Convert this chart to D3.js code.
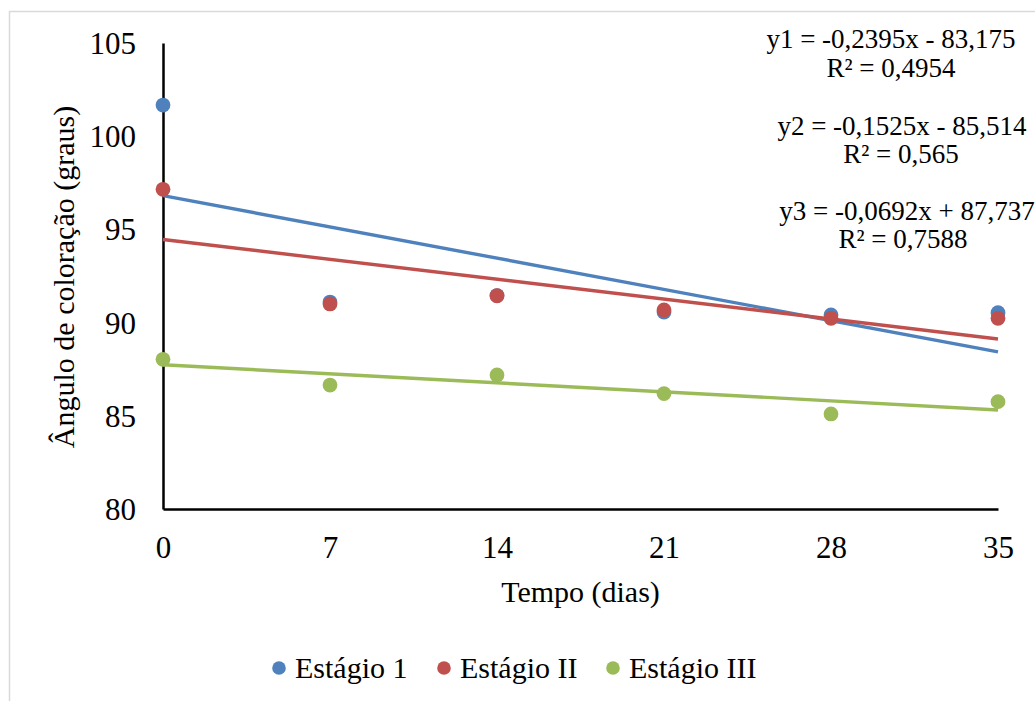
<!DOCTYPE html>
<html>
<head>
<meta charset="utf-8">
<script src="https://cdn.jsdelivr.net/npm/d3@7"></script>
<style>
  html, body { margin: 0; padding: 0; background: #fff; }
  svg { display: block; }
  text { font-family: "Liberation Serif", "Times New Roman", serif; fill: #000; }
</style>
</head>
<body>
<svg id="chart" width="1035" height="701"></svg>
<script>
// ---- data ----
const days = [0, 7, 14, 21, 28, 35];
const seriesNames = ["Estágio 1", "Estágio II", "Estágio III"];
const stage1 = [101.67, 91.1, 91.45, 90.57, 90.41, 90.53];
const stage2 = [97.15, 91.0, 91.44, 90.68, 90.23, 90.23];
const stage3 = [88.03, 86.65, 87.19, 86.19, 85.10, 85.76];
const trendSlopes = [-0.2395, -0.1525, -0.0692];
const trendIntercepts = [96.81, 94.46, 87.737];
const equationLines = [
  "y1 = -0,2395x - 83,175", "R² = 0,4954",
  "y2 = -0,1525x - 85,514", "R² = 0,565",
  "y3 = -0,0692x + 87,737", "R² = 0,7588"
];
const yTicks = [80, 85, 90, 95, 100, 105];
const colors = ["#4F81BD", "#C0504D", "#9BBB59"];

// ---- layout ----
const svg = d3.select("#chart");
const plot = { left: 163, right: 998, top: 43, bottom: 509 };
const serif = "'Liberation Serif', 'Times New Roman', serif";

// outer chart border
svg.append("rect")
  .attr("x", 9.5).attr("y", 11.5)
  .attr("width", 1040).attr("height", 700)
  .attr("fill", "none").attr("stroke", "#d9d9d9").attr("stroke-width", 1.5);

const x = d3.scaleLinear().domain([0, 35]).range([plot.left, plot.right]);
const y = d3.scaleLinear().domain([80, 105]).range([plot.bottom, plot.top]);

// axes
const xAxis = d3.axisBottom(x).tickValues(days).tickSize(0).tickPadding(0);
const gx = svg.append("g").attr("transform", `translate(0,${plot.bottom})`).call(xAxis)
  .attr("font-family", serif).attr("font-size", 31);
gx.select(".domain").attr("stroke", "#000").attr("stroke-width", 2.5);
gx.selectAll("text").attr("dy", 0).attr("y", 49).attr("fill", "#000")
  .style("font-family", serif).style("font-size", "31px");

const yAxis = d3.axisLeft(y).tickValues(yTicks).tickSize(0).tickPadding(0);
const gy = svg.append("g").attr("transform", `translate(${plot.left},0)`).call(yAxis)
  .attr("font-family", serif).attr("font-size", 31);
gy.select(".domain").attr("stroke", "#000").attr("stroke-width", 2.5);
gy.selectAll("text").attr("x", -27).attr("dy", "0.34em").attr("fill", "#000")
  .style("font-family", serif).style("font-size", "31px");

// axis titles
svg.append("text")
  .attr("x", (plot.left + plot.right) / 2).attr("y", 602)
  .attr("text-anchor", "middle").attr("font-size", 30)
  .text("Tempo (dias)");
svg.append("text")
  .attr("transform", `translate(74,277) rotate(-90)`)
  .attr("text-anchor", "middle").attr("font-size", 30)
  .text("Ângulo de coloração (graus)");

const allSeries = [stage1, stage2, stage3];

// trendlines
allSeries.forEach((s, i) => {
  const x0 = days[0], x1 = days[days.length - 1];
  svg.append("line")
    .attr("x1", x(x0)).attr("y1", y(trendIntercepts[i] + trendSlopes[i] * x0))
    .attr("x2", x(x1)).attr("y2", y(trendIntercepts[i] + trendSlopes[i] * x1))
    .attr("stroke", colors[i]).attr("stroke-width", 3.4);
});

// points
allSeries.forEach((s, i) => {
  svg.append("g").selectAll("circle")
    .data(s)
    .join("circle")
    .attr("cx", (d, j) => x(days[j]))
    .attr("cy", d => y(d))
    .attr("r", 7.4)
    .attr("fill", colors[i]);
});

// equations
const eqX = [891, 891, 902, 901, 907, 903];
const eqY = [48, 77, 135, 163, 220, 248];
equationLines.forEach((t, i) => {
  svg.append("text")
    .attr("x", eqX[i]).attr("y", eqY[i])
    .attr("text-anchor", "middle").attr("font-size", 27)
    .text(t);
});

// legend
const legX = [279, 444, 613];
seriesNames.forEach((n, i) => {
  svg.append("circle").attr("cx", legX[i]).attr("cy", 668).attr("r", 6.8).attr("fill", colors[i]);
  svg.append("text").attr("x", legX[i] + 16).attr("y", 678)
    .attr("font-size", 30).text(n);
});
</script>
</body>
</html>
